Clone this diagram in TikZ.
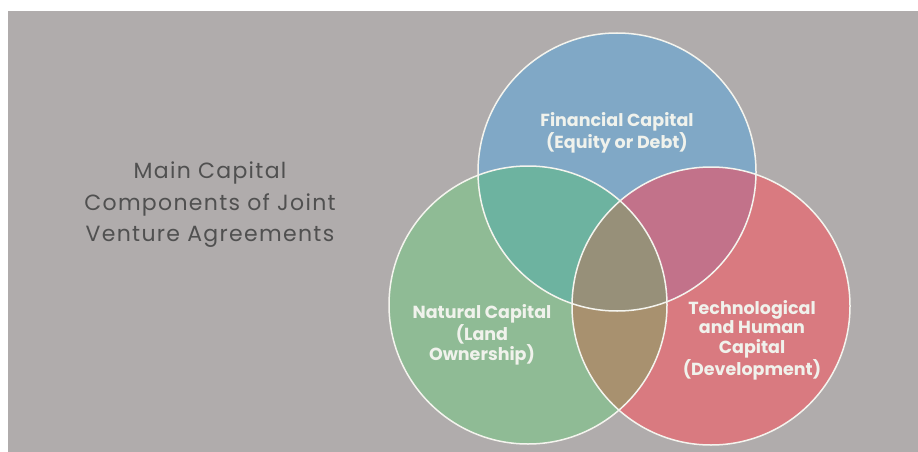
\documentclass[tikz,border=0pt]{standalone}
\usepackage{fontspec}
\setmainfont{Poppins}
\definecolor{pagebg}{HTML}{B0ACAC}
\definecolor{finblue}{HTML}{80A8C6}
\definecolor{natgreen}{HTML}{8FBB95}
\definecolor{techred}{HTML}{D97A80}
\definecolor{fin-nat}{HTML}{6DB3A0}
\definecolor{fin-tech}{HTML}{C2728A}
\definecolor{nat-tech}{HTML}{A8916F}
\definecolor{allthree}{HTML}{979079}
\definecolor{titlegray}{HTML}{505050}
\definecolor{labelwhite}{HTML}{F0F2EC}
\definecolor{ringwhite}{HTML}{F4F4EE}
\tikzset{
  ring/.style={draw=ringwhite, line width=1.5pt},
  title/.style={text=titlegray, align=center,
    font=\addfontfeature{LetterSpace=6}\fontsize{22}{31.5}\selectfont},
  setlabel/.style={text=labelwhite, align=center,
    font=\bfseries\fontsize{17.5}{19.5}\selectfont}
}
\begin{document}
\begin{tikzpicture}[x=1pt,y=-1pt]
\useasboundingbox (0,0) rectangle (918,452);
\fill[white] (0,0) rectangle (918,452);
\fill[pagebg] (8,11) rectangle (918,452);

% circle centres
\coordinate (fin) at (617,172);
\coordinate (nat) at (528,305);
\coordinate (tech) at (711,306);
\def\rr{139pt}

% single sets
\fill[finblue] (fin) circle[radius=\rr];
\fill[natgreen] (nat) circle[radius=\rr];
\fill[techred] (tech) circle[radius=\rr];

% pairwise overlaps
\begin{scope}
  \clip (fin) circle[radius=\rr];
  \fill[fin-nat] (nat) circle[radius=\rr];
  \fill[fin-tech] (tech) circle[radius=\rr];
\end{scope}
\begin{scope}
  \clip (nat) circle[radius=\rr];
  \fill[nat-tech] (tech) circle[radius=\rr];
\end{scope}
% centre region
\begin{scope}
  \clip (fin) circle[radius=\rr];
  \clip (nat) circle[radius=\rr];
  \fill[allthree] (tech) circle[radius=\rr];
\end{scope}

% outlines
\draw[ring] (fin) circle[radius=\rr];
\draw[ring] (nat) circle[radius=\rr];
\draw[ring] (tech) circle[radius=\rr];

% labels
\node[title] (heading) at (210,205) {Main Capital\\Components of Joint\\Venture Agreements};
\node[setlabel, font=\bfseries\fontsize{17.5}{18.5}\selectfont] (finlabel) at (617,133) {Financial Capital\\(Equity or Debt)};
\node[setlabel] (natlabel) at (482,335) {Natural Capital\\(Land\\Ownership)};
\node[setlabel] (techlabel) at (752,340) {Technological\\and Human\\Capital\\(Development)};
\end{tikzpicture}
\end{document}
